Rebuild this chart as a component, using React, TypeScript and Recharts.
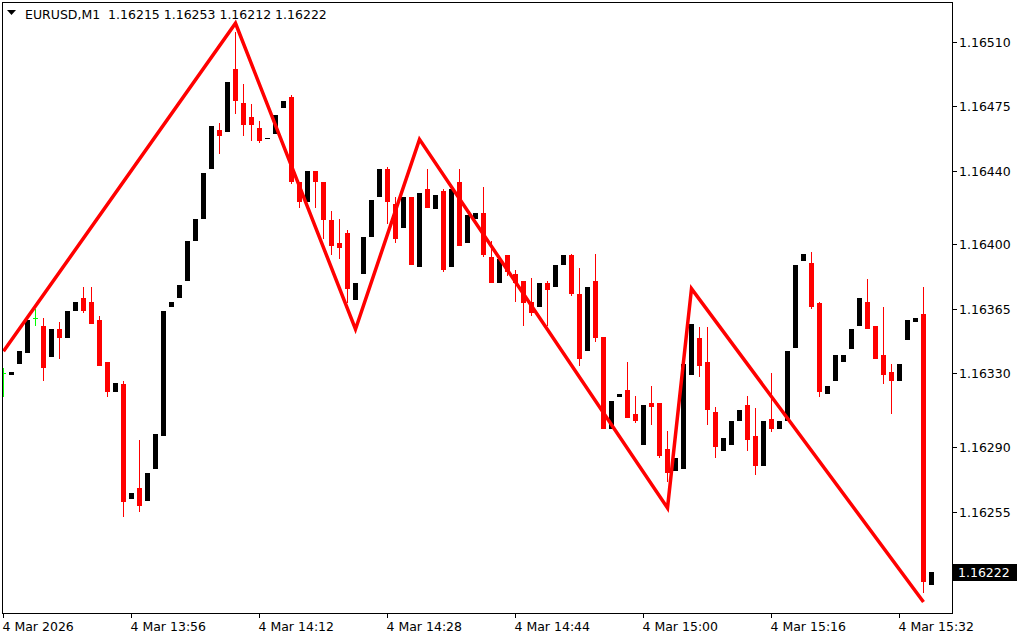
import { ComposedChart, Bar, Line, XAxis, YAxis } from 'recharts';

// EURUSD M1 candles, 13:40 .. 15:36 (one per minute)
const opens = [
  1.16330, 1.16329, 1.16335, 1.16341, 1.16360, 1.16356, 1.16339, 1.16354, 1.16349, 1.16364,
  1.16371, 1.16369, 1.16359, 1.16336, 1.16320, 1.16324, 1.16262, 1.16268, 1.16261, 1.16278,
  1.16296, 1.16366, 1.16371, 1.16380, 1.16402, 1.16414, 1.16441, 1.16462, 1.16461, 1.16495,
  1.16477, 1.16469, 1.16463, 1.16457, 1.16460, 1.16474, 1.16480, 1.16434, 1.16423, 1.16440,
  1.16434, 1.16413, 1.16401, 1.16406, 1.16370, 1.16384, 1.16404, 1.16426, 1.16441, 1.16422,
  1.16409, 1.16426, 1.16388, 1.16430, 1.16419, 1.16429, 1.16388, 1.16434, 1.16401, 1.16414,
  1.16417, 1.16393, 1.16379, 1.16394, 1.16384, 1.16380, 1.16369, 1.16366, 1.16379, 1.16377,
  1.16389, 1.16394, 1.16373, 1.16342, 1.16380, 1.16350, 1.16300, 1.16317, 1.16321, 1.16308,
  1.16291, 1.16314, 1.16314, 1.16289, 1.16277, 1.16278, 1.16329, 1.16349, 1.16336, 1.16309,
  1.16288, 1.16291, 1.16304, 1.16313, 1.16296, 1.16280, 1.16305, 1.16300, 1.16304, 1.16344,
  1.16391, 1.16390, 1.16368, 1.16319, 1.16326, 1.16336, 1.16343, 1.16356, 1.16369, 1.16356,
  1.16340, 1.16331, 1.16326, 1.16348, 1.16358, 1.16362, 1.16215,
];

const highs = [
  1.16333, 1.16331, 1.16342, 1.16359, 1.16365, 1.16360, 1.16354, 1.16358, 1.16364, 1.16369,
  1.16377, 1.16377, 1.16361, 1.16336, 1.16325, 1.16326, 1.16265, 1.16294, 1.16276, 1.16297,
  1.16364, 1.16369, 1.16378, 1.16402, 1.16414, 1.16439, 1.16464, 1.16466, 1.16488, 1.16515,
  1.16487, 1.16476, 1.16467, 1.16458, 1.16470, 1.16478, 1.16481, 1.16434, 1.16440, 1.16440,
  1.16434, 1.16418, 1.16414, 1.16408, 1.16379, 1.16404, 1.16424, 1.16441, 1.16442, 1.16426,
  1.16426, 1.16426, 1.16428, 1.16441, 1.16427, 1.16430, 1.16430, 1.16441, 1.16416, 1.16417,
  1.16431, 1.16402, 1.16392, 1.16394, 1.16386, 1.16380, 1.16382, 1.16379, 1.16380, 1.16389,
  1.16394, 1.16395, 1.16387, 1.16377, 1.16395, 1.16350, 1.16315, 1.16319, 1.16336, 1.16318,
  1.16313, 1.16323, 1.16314, 1.16299, 1.16284, 1.16335, 1.16357, 1.16355, 1.16355, 1.16312,
  1.16295, 1.16304, 1.16310, 1.16318, 1.16311, 1.16304, 1.16330, 1.16304, 1.16342, 1.16389,
  1.16395, 1.16396, 1.16369, 1.16323, 1.16340, 1.16340, 1.16354, 1.16371, 1.16381, 1.16356,
  1.16366, 1.16335, 1.16335, 1.16359, 1.16360, 1.16377, 1.16222,
];

const lows = [
  1.16317, 1.16329, 1.16335, 1.16341, 1.16356, 1.16326, 1.16339, 1.16338, 1.16349, 1.16364,
  1.16363, 1.16357, 1.16334, 1.16317, 1.16320, 1.16252, 1.16262, 1.16255, 1.16261, 1.16278,
  1.16296, 1.16366, 1.16371, 1.16380, 1.16402, 1.16414, 1.16441, 1.16449, 1.16461, 1.16471,
  1.16459, 1.16456, 1.16455, 1.16457, 1.16460, 1.16474, 1.16433, 1.16420, 1.16423, 1.16420,
  1.16403, 1.16394, 1.16392, 1.16368, 1.16370, 1.16384, 1.16404, 1.16426, 1.16411, 1.16401,
  1.16409, 1.16389, 1.16388, 1.16420, 1.16419, 1.16385, 1.16388, 1.16399, 1.16401, 1.16414,
  1.16393, 1.16379, 1.16379, 1.16383, 1.16369, 1.16356, 1.16361, 1.16366, 1.16356, 1.16377,
  1.16389, 1.16372, 1.16334, 1.16342, 1.16347, 1.16300, 1.16300, 1.16317, 1.16306, 1.16303,
  1.16291, 1.16302, 1.16284, 1.16271, 1.16277, 1.16278, 1.16329, 1.16328, 1.16302, 1.16284,
  1.16288, 1.16291, 1.16304, 1.16288, 1.16275, 1.16280, 1.16298, 1.16300, 1.16304, 1.16344,
  1.16391, 1.16365, 1.16317, 1.16319, 1.16326, 1.16336, 1.16343, 1.16356, 1.16354, 1.16338,
  1.16324, 1.16308, 1.16326, 1.16348, 1.16358, 1.16211, 1.16215,
];

const closes = [
  1.16330, 1.16331, 1.16342, 1.16359, 1.16360, 1.16333, 1.16354, 1.16349, 1.16364, 1.16369,
  1.16364, 1.16357, 1.16334, 1.16320, 1.16325, 1.16260, 1.16265, 1.16258, 1.16276, 1.16297,
  1.16364, 1.16369, 1.16378, 1.16402, 1.16414, 1.16439, 1.16464, 1.16459, 1.16488, 1.16478,
  1.16465, 1.16465, 1.16456, 1.16458, 1.16470, 1.16478, 1.16434, 1.16423, 1.16440, 1.16434,
  1.16413, 1.16399, 1.16398, 1.16376, 1.16379, 1.16404, 1.16424, 1.16441, 1.16423, 1.16403,
  1.16426, 1.16389, 1.16428, 1.16420, 1.16427, 1.16386, 1.16430, 1.16399, 1.16416, 1.16417,
  1.16394, 1.16379, 1.16392, 1.16385, 1.16379, 1.16368, 1.16363, 1.16379, 1.16375, 1.16389,
  1.16394, 1.16373, 1.16338, 1.16377, 1.16349, 1.16300, 1.16315, 1.16319, 1.16306, 1.16304,
  1.16313, 1.16312, 1.16285, 1.16276, 1.16284, 1.16335, 1.16357, 1.16334, 1.16310, 1.16290,
  1.16295, 1.16304, 1.16310, 1.16294, 1.16280, 1.16304, 1.16300, 1.16304, 1.16342, 1.16389,
  1.16395, 1.16366, 1.16320, 1.16323, 1.16340, 1.16340, 1.16354, 1.16371, 1.16354, 1.16338,
  1.16329, 1.16326, 1.16335, 1.16359, 1.16360, 1.16217, 1.16222,
];

// zigzag drawn over the chart: bar index -> price
const pivotIdx = [0, 29, 44, 52, 83, 86, 115];
const pivotPrice = [1.16342, 1.16520, 1.16354, 1.16457, 1.16257, 1.16376, 1.16206];

const tickIdx = [0, 16, 32, 48, 64, 80, 96, 112];
const timeLabels = [
  '4 Mar 2026', '4 Mar 13:56', '4 Mar 14:12', '4 Mar 14:28',
  '4 Mar 14:44', '4 Mar 15:00', '4 Mar 15:16', '4 Mar 15:32',
];
const priceTicks = [1.1651, 1.16475, 1.1644, 1.164, 1.16365, 1.1633, 1.1629, 1.16255, 1.16222];
const lastPrice = 1.16222;

const FONT = '"DejaVu Sans", Verdana, sans-serif';

const rows = opens.map((o, i) => ({
  i,
  open: o,
  high: highs[i],
  low: lows[i],
  close: closes[i],
  zz: pivotIdx.includes(i) ? pivotPrice[pivotIdx.indexOf(i)] : null,
}));

const Candle = (props: any) => {
  const { x, y, width, height, payload } = props;
  if (!payload || x == null) return null;
  const { open, close, high, low } = payload;
  const top = Math.min(y, y + height);
  const h = Math.abs(height);
  const py = (v: number) => (high === low ? top : top + ((high - v) / (high - low)) * h);
  const cx = x + width / 2;
  const color = close > open ? '#000000' : close < open ? '#ff0000' : '#00ff00';
  const bTop = Math.round(py(Math.max(open, close)));
  const bBot = Math.round(py(Math.min(open, close)));
  return (
    <g shapeRendering="crispEdges">
      <line x1={cx} x2={cx} y1={Math.round(top)} y2={Math.round(top + h)} stroke={color} strokeWidth={1} />
      {close !== open ? (
        <rect x={x} y={bTop} width={width} height={Math.max(1, bBot - bTop)} fill={color} />
      ) : (
        <line x1={x} x2={x + width} y1={bTop + 0.5} y2={bTop + 0.5} stroke={color} strokeWidth={1} />
      )}
    </g>
  );
};

const XTick = ({ x, payload }: any) => {
  const k = tickIdx.indexOf(payload.value);
  return (
    <g>
      <line x1={x} x2={x} y1={613} y2={618} stroke="#000" shapeRendering="crispEdges" />
      <text x={x - 1} y={631} textAnchor="start" fontSize={12.5} fontFamily={FONT} fill="#000">
        {timeLabels[k]}
      </text>
    </g>
  );
};

const YTick = ({ y, payload }: any) => {
  const v = payload.value;
  const ry = Math.round(y) + 0.5;
  if (v === lastPrice) {
    return (
      <g>
        <rect x={953} y={Math.round(y) - 8} width={64} height={17} fill="#000" />
        <text x={958} y={ry} dy="0.36em" fontSize={12.5} fontFamily={FONT} fill="#fff">
          {v.toFixed(5)}
        </text>
      </g>
    );
  }
  return (
    <g>
      <line x1={952} x2={957} y1={ry} y2={ry} stroke="#000" shapeRendering="crispEdges" />
      <text x={959} y={ry} dy="0.36em" fontSize={12.5} fontFamily={FONT} fill="#000">
        {v.toFixed(5)}
      </text>
    </g>
  );
};

export default function App() {
  return (
    <div style={{ position: 'absolute', left: 0, top: 0, width: 1024, height: 640, background: '#fff', fontFamily: FONT }}>
      <ComposedChart width={1024} height={640} data={rows} margin={{ top: 3, right: 0, bottom: 0, left: 2.5 }}>
        <XAxis
          dataKey="i"
          type="number"
          domain={[-0.125, 118.5625]}
          allowDataOverflow
          ticks={tickIdx}
          interval={0}
          tick={<XTick />}
          tickLine={false}
          axisLine={false}
          height={27}
        />
        <YAxis
          orientation="right"
          type="number"
          domain={[1.162, 1.16531]}
          allowDataOverflow
          ticks={priceTicks}
          interval={0}
          tick={<YTick />}
          tickLine={false}
          axisLine={false}
          width={72}
        />
        <Bar
          dataKey={(d: any) => [d.low, d.high]}
          barSize={5}
          shape={<Candle />}
          isAnimationActive={false}
        />
        <Line
          dataKey="zz"
          stroke="#ff0000"
          strokeWidth={3.5}
          dot={false}
          connectNulls
          isAnimationActive={false}
        />
      </ComposedChart>
      <div
        style={{
          position: 'absolute', left: 2, top: 2, width: 951, height: 612,
          border: '1px solid #000', boxSizing: 'border-box', pointerEvents: 'none',
        }}
      />
      <svg width={400} height={26} style={{ position: 'absolute', left: 0, top: 0 }}>
        <polygon points="7,10 16,10 11.5,15" fill="#000" />
        <text x={25} y={19} fontSize={12.5} fontFamily={FONT} fill="#000" style={{ whiteSpace: 'pre' }}>
          {'EURUSD,M1  1.16215 1.16253 1.16212 1.16222'}
        </text>
      </svg>
    </div>
  );
}
